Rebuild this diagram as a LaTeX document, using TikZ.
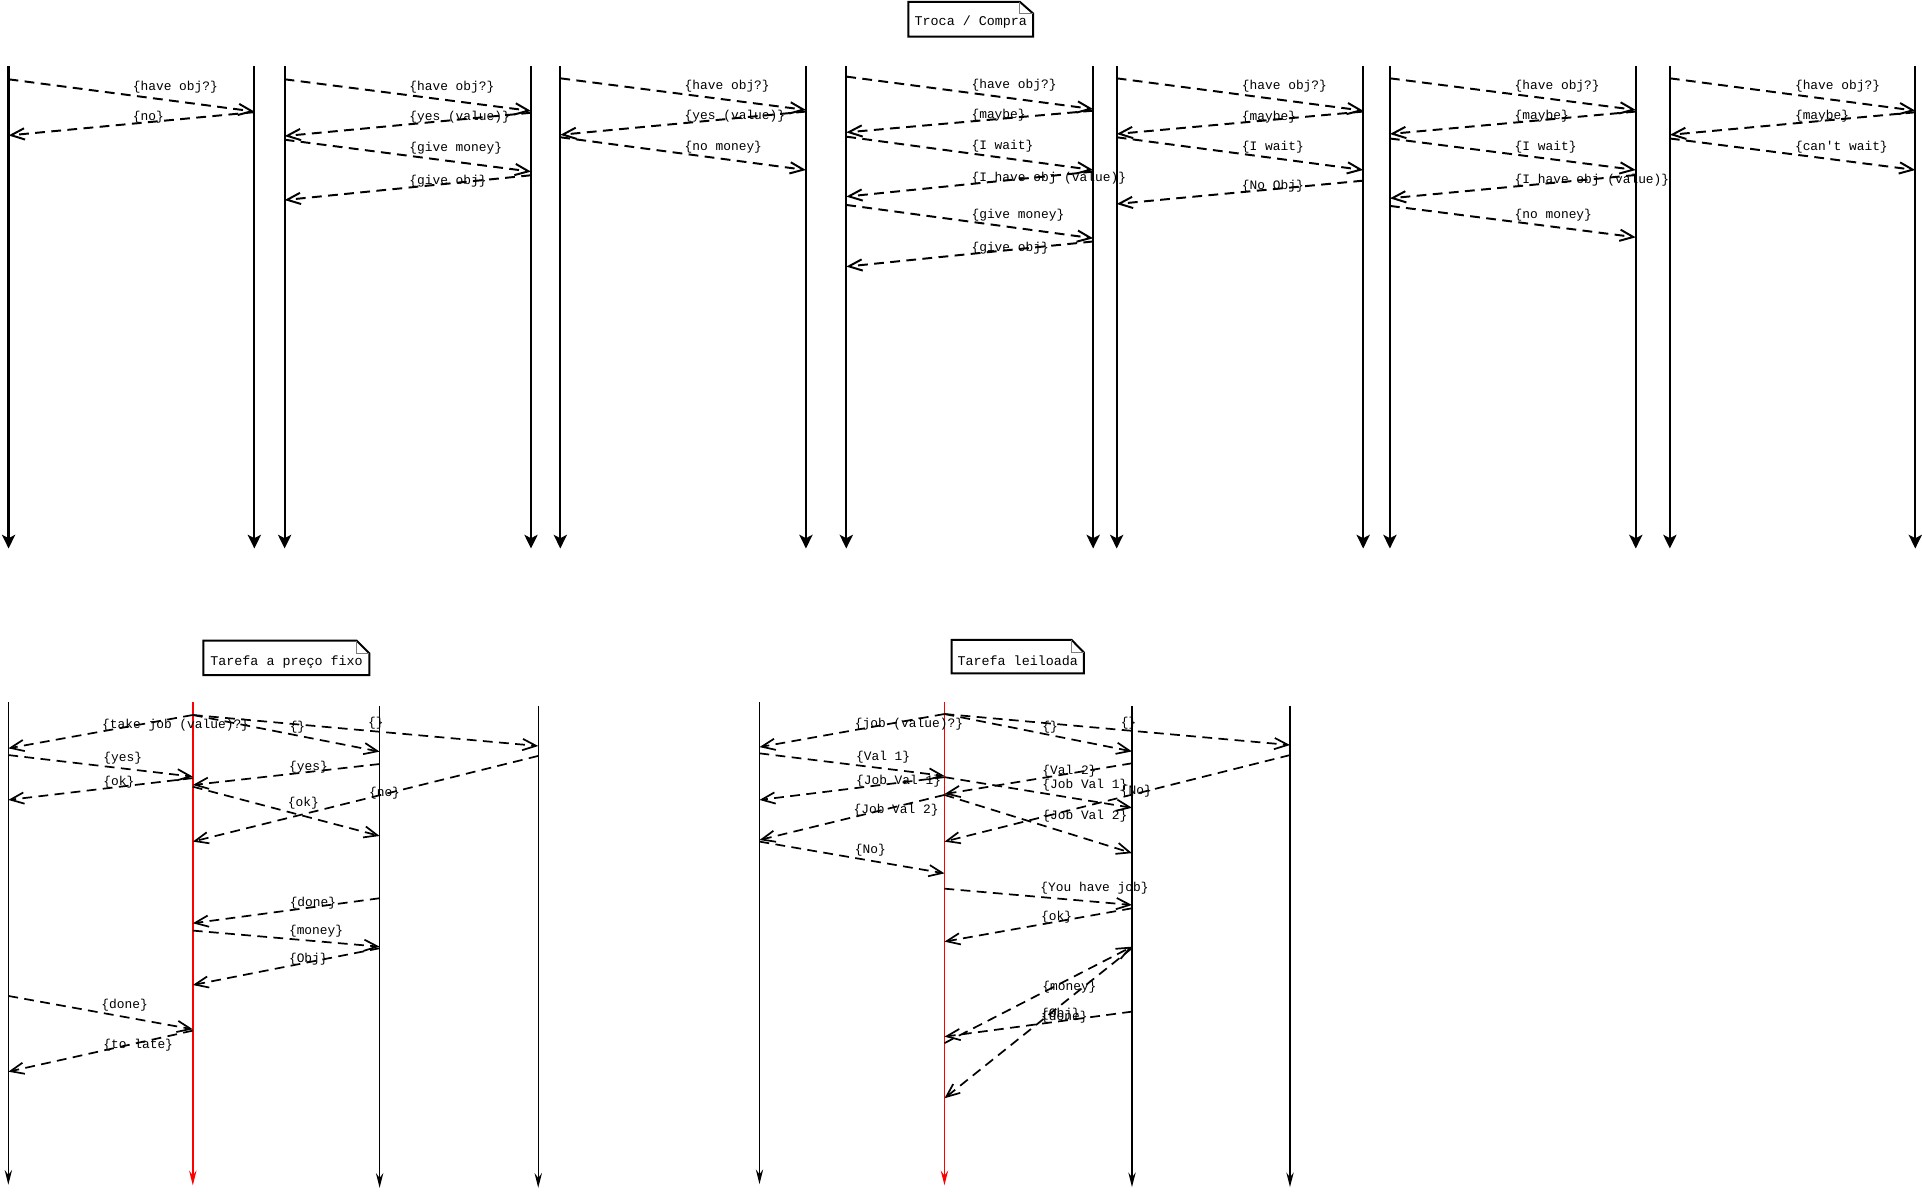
\documentclass[tikz,border=0pt]{standalone}
\usepackage{fontspec}
\newfontfamily\seqfont{Liberation Mono}
\usetikzlibrary{arrows.meta}
\definecolor{foldgray}{RGB}{125,125,125}

\begin{document}
\begin{tikzpicture}[x=0.5pt,y=-0.5pt,
  life/.style={line width=0.9pt,-{Stealth[length=5.6pt,width=5.4pt,inset=1.4pt]}},
  lifethin/.style={line width=0.6pt,-{Stealth[length=6pt,width=3pt,inset=2pt]}},
  msg/.style={line width=0.8pt,dash pattern=on 4pt off 2.6pt,-{Straight Barb[length=5.5pt,width=4.6pt]}},
  lmsg/.style={msg,line width=0.7pt},
  lbl/.style={font=\seqfont\fontsize{5.25}{6}\selectfont,anchor=west,inner sep=0pt},
  notetext/.style={font=\seqfont\fontsize{5.45}{6.5}\selectfont,inner sep=0pt},
  notebox/.style={line width=0.8pt,line join=miter},
  fold/.style={draw=foldgray,line width=0.4pt}]

\useasboundingbox (0,0) rectangle (1568,972);

% notes
\node[notetext] (troca) at (792,18.3) {Troca / Compra};
\draw[notebox] (741,1.5) -- (832,1.5) -- (842.8,11) -- (842.8,29.9) -- (741,29.9) -- cycle;
\draw[fold] (832,1.5) |- (842.8,11);

\node[notetext] (fixo) at (233.8,540) {Tarefa a preço fixo};
\draw[notebox] (165.9,522.7) -- (291,522.7) -- (301.3,533) -- (301.3,550.7) -- (165.9,550.7) -- cycle;
\draw[fold] (291,522.7) |- (301.3,533);

\node[notetext] (leilao) at (830.3,539) {Tarefa leiloada};
\draw[notebox] (776.4,522.1) -- (874.3,522.1) -- (884.3,532.4) -- (884.3,549.3) -- (776.4,549.3) -- cycle;
\draw[fold] (874.3,522.1) |- (884.3,532.4);

% lifelines
\foreach \n/\x in {t1l/7,t1r/207.5,t2l/232.2,t2r/433.2,t3l/457.1,t3r/657.5,t4l/690.4,t4r/891.8,
                   t5l/911,t5r/1112.1,t6l/1133.9,t6r/1334.5,t7l/1362.3,t7r/1562.5}{
  \coordinate (\n) at (\x,54);
  \draw[life] (\n) -- (\n |- 0,447.5);
}
\foreach \n/\x/\ya/\yb in {fa/6.8/573/966.5,fb/309.7/576/969,fc/439.1/576/969,
                           la/619.6/573/966,lb/923.5/576/968.5,lc/1052.4/576/968.5}{
  \coordinate (\n) at (\x,\ya);
  \draw[lifethin] (\n) -- (\n |- 0,\yb);
}
\coordinate (fm) at (157.3,573);
\coordinate (lm) at (770.5,573);
\draw[lifethin,red] (fm) -- (fm |- 0,967);
\draw[lifethin,red] (lm) -- (lm |- 0,967);

% troca / compra
\draw[msg] (t1l |- 0,64.7) -- (t1r |- 0,91);
\draw[msg] (t1r |- 0,91.5) -- (t1l |- 0,110.5);
\node[lbl] (a1) at (108,71.2) {\{have obj?\}};
\node[lbl] (a2) at (108,95.2) {\{no\}};

\draw[msg] (t2l |- 0,64.7) -- (t2r |- 0,90.5);
\draw[msg] (t2r |- 0,92) -- (t2l |- 0,111);
\draw[msg] (t2l |- 0,114) -- (t2r |- 0,140);
\draw[msg] (t2r |- 0,143) -- (t2l |- 0,163.2);
\node[lbl] (b1) at (333.6,71.2) {\{have obj?\}};
\node[lbl] (b2) at (333.6,95.7) {\{yes (value)\}};
\node[lbl] (b3) at (333.6,121) {\{give money\}};
\node[lbl] (b4) at (333.6,148.2) {\{give obj\}};

\draw[msg] (t3l |- 0,63.9) -- (t3r |- 0,89.7);
\draw[msg] (t3r |- 0,91) -- (t3l |- 0,110);
\draw[msg] (t3l |- 0,112) -- (t3r |- 0,138.7);
\node[lbl] (c1) at (558.2,70.2) {\{have obj?\}};
\node[lbl] (c2) at (558.2,94.6) {\{yes (value)\}};
\node[lbl] (c3) at (558.2,120.2) {\{no money\}};

\draw[msg] (t4l |- 0,62.5) -- (t4r |- 0,89);
\draw[msg] (t4r |- 0,90.3) -- (t4l |- 0,108);
\draw[msg] (t4l |- 0,111.5) -- (t4r |- 0,138.7);
\draw[msg] (t4r |- 0,140) -- (t4l |- 0,160.4);
\draw[msg] (t4l |- 0,167.2) -- (t4r |- 0,194.4);
\draw[msg] (t4r |- 0,197) -- (t4l |- 0,217.5);
\node[lbl] (d1) at (792.2,69.3) {\{have obj?\}};
\node[lbl] (d2) at (792.2,93.8) {\{maybe\}};
\node[lbl] (d3) at (792.2,119.1) {\{I wait\}};
\node[lbl] (d4) at (792.2,145.5) {\{I have obj (value)\}};
\node[lbl] (d5) at (792.2,175.4) {\{give money\}};
\node[lbl] (d6) at (792.2,202.6) {\{give obj\}};

\draw[msg] (t5l |- 0,63.9) -- (t5r |- 0,90.3);
\draw[msg] (t5r |- 0,91) -- (t5l |- 0,109.3);
\draw[msg] (t5l |- 0,112) -- (t5r |- 0,138.7);
\draw[msg] (t5r |- 0,147.4) -- (t5l |- 0,166.4);
\node[lbl] (e1) at (1012.8,70.7) {\{have obj?\}};
\node[lbl] (e2) at (1012.8,95.2) {\{maybe\}};
\node[lbl] (e3) at (1012.8,120.2) {\{I wait\}};
\node[lbl] (e4) at (1012.8,151.7) {\{No Obj\}};

\draw[msg] (t6l |- 0,63.9) -- (t6r |- 0,89.7);
\draw[msg] (t6r |- 0,91) -- (t6l |- 0,109.3);
\draw[msg] (t6l |- 0,113) -- (t6r |- 0,138.7);
\draw[msg] (t6r |- 0,142.8) -- (t6l |- 0,161.8);
\draw[msg] (t6l |- 0,168) -- (t6r |- 0,193.6);
\node[lbl] (g1) at (1235.3,70.7) {\{have obj?\}};
\node[lbl] (g2) at (1235.3,94.6) {\{maybe\}};
\node[lbl] (g3) at (1235.3,120.2) {\{I wait\}};
\node[lbl] (g4) at (1235.3,147.4) {\{I have obj (value)\}};
\node[lbl] (g5) at (1235.3,175.4) {\{no money\}};

\draw[msg] (t7l |- 0,63.9) -- (t7r |- 0,90.3);
\draw[msg] (t7r |- 0,91.6) -- (t7l |- 0,110);
\draw[msg] (t7l |- 0,113) -- (t7r |- 0,138.7);
\node[lbl] (h1) at (1464,70.2) {\{have obj?\}};
\node[lbl] (h2) at (1464,94.6) {\{maybe\}};
\node[lbl] (h3) at (1464,120.2) {\{can\textquotesingle t wait\}};

% tarefa a preco fixo
\draw[lmsg] (fm |- 0,583.3) -- (fa |- 0,610.5);
\draw[lmsg] (fm |- 0,583.3) -- (fb |- 0,613.2);
\draw[lmsg] (fm |- 0,583.3) -- (fc |- 0,608.6);
\draw[lmsg] (fa |- 0,616) -- (fm |- 0,633.6);
\draw[lmsg] (fm |- 0,634.8) -- (fa |- 0,652.6);
\draw[lmsg] (fb |- 0,623.3) -- (fm |- 0,640.4);
\draw[lmsg] (fc |- 0,616.7) -- (fm |- 0,686.6);
\draw[lmsg] (fm |- 0,641.8) -- (fb |- 0,682);
\draw[lmsg] (fb |- 0,732.8) -- (fm |- 0,753.2);
\draw[lmsg] (fm |- 0,759.2) -- (fb |- 0,772.3);
\draw[lmsg] (fb |- 0,773.6) -- (fm |- 0,803.6);
\draw[lmsg] (fa |- 0,812.5) -- (fm |- 0,839.7);
\draw[lmsg] (fm |- 0,840.8) -- (fa |- 0,874.3);
\node[lbl] (p1) at (83,591.4) {\{take job (value)?\}};
\node[lbl] (p2) at (236,593) {\{\}};
\node[lbl] (p3) at (300,590) {\{\}};
\node[lbl] (p4) at (84,618.7) {\{yes\}};
\node[lbl] (p5) at (84,638.5) {\{ok\}};
\node[lbl] (p6) at (235.5,626) {\{yes\}};
\node[lbl] (p7) at (300.7,646.7) {\{no\}};
\node[lbl] (p8) at (234.5,655.4) {\{ok\}};
\node[lbl] (p9) at (236,737) {\{done\}};
\node[lbl] (p10) at (235.4,760) {\{money\}};
\node[lbl] (p11) at (235.4,782.6) {\{Obj\}};
\node[lbl] (p12) at (82.4,820.4) {\{done\}};
\node[lbl] (p13) at (84,852.5) {\{to late\}};

% tarefa leiloada
\draw[lmsg] (lm |- 0,582.5) -- (la |- 0,609.5);
\draw[lmsg] (lm |- 0,582.5) -- (lb |- 0,613);
\draw[lmsg] (lm |- 0,582.5) -- (lc |- 0,607.8);
\draw[lmsg] (la |- 0,614.6) -- (lm |- 0,633);
\draw[lmsg] (lm |- 0,634) -- (la |- 0,652.6);
\draw[lmsg] (lb |- 0,622.7) -- (lm |- 0,647.8);
\draw[lmsg] (lm |- 0,634) -- (lb |- 0,659);
\draw[lmsg] (lc |- 0,616) -- (lm |- 0,686.6);
\draw[lmsg] (lm |- 0,648.5) -- (la |- 0,685.3);
\draw[lmsg] (lm |- 0,648.5) -- (lb |- 0,696);
\draw[lmsg] (la |- 0,686.6) -- (lm |- 0,712.5);
\draw[lmsg] (lm |- 0,725) -- (lb |- 0,738.3);
\draw[lmsg] (lb |- 0,741) -- (lm |- 0,768.2);
\draw[lmsg] (lm |- 0,851) -- (lb |- 0,772.3);
\draw[lmsg] (lb |- 0,773.5) -- (lm |- 0,896);
\draw[lmsg] (lb |- 0,825.3) -- (lm |- 0,845.7);
\node[lbl] (q1) at (697,590.6) {\{job (value)?\}};
\node[lbl] (q2) at (850,593) {\{\}};
\node[lbl] (q3) at (914,590) {\{\}};
\node[lbl] (q4) at (698,617.6) {\{Val 1\}};
\node[lbl] (q5) at (698,637.7) {\{Job Val 1\}};
\node[lbl] (q6) at (850,629.5) {\{Val 2\}};
\node[lbl] (q7) at (850,640.4) {\{Job Val 1\}};
\node[lbl] (q8) at (914,645.8) {\{No\}};
\node[lbl] (q9) at (696,660.8) {\{Job Val 2\}};
\node[lbl] (q10) at (850,666) {\{Job Val 2\}};
\node[lbl] (q11) at (697,693.4) {\{No\}};
\node[lbl] (q12) at (848.4,724.6) {\{You have job\}};
\node[lbl] (q13) at (849,748) {\{ok\}};
\node[lbl] (q14) at (850,805.5) {\{money\}};
\node[lbl] (q15) at (849,827) {\{Obj\}};
\node[lbl] (q16) at (849,829.5) {\{done\}};
\end{tikzpicture}
\end{document}
